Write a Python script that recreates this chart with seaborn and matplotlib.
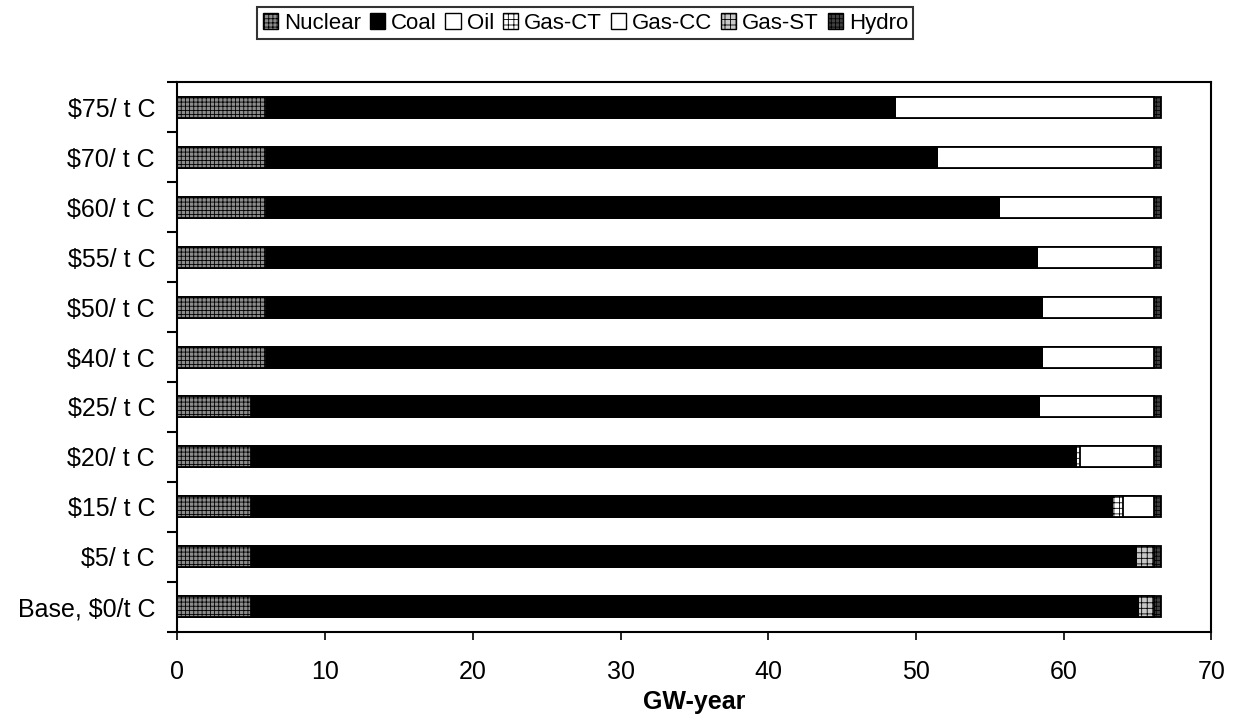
import matplotlib.pyplot as plt
import pandas as pd
import seaborn as sns
from matplotlib.patches import Patch

# scenarios, top to bottom
scenarios = ["$75/ t C", "$70/ t C", "$60/ t C", "$55/ t C", "$50/ t C", "$40/ t C",
             "$25/ t C", "$20/ t C", "$15/ t C", "$5/ t C", "Base, $0/t C"]

# GW-year by source
nuclear = [6.0, 6.0, 6.0, 6.0, 6.0, 6.0, 5.0, 5.0, 5.0, 5.0, 5.0]
coal = [42.6, 45.4, 49.6, 52.2, 52.5, 52.5, 53.3, 55.8, 58.3, 59.9, 60.0]
oil = [0, 0, 0, 0, 0, 0, 0, 0, 0, 0, 0]
gas_ct = [0, 0, 0, 0, 0, 0, 0, 0.3, 0.7, 0, 0]
gas_cc = [17.5, 14.7, 10.5, 7.9, 7.6, 7.6, 7.8, 5.0, 2.1, 0, 0]
gas_st = [0, 0, 0, 0, 0, 0, 0, 0, 0, 1.2, 1.1]
hydro = [0.5, 0.5, 0.5, 0.5, 0.5, 0.5, 0.5, 0.5, 0.5, 0.5, 0.5]

sources = ["Nuclear", "Coal", "Oil", "Gas-CT", "Gas-CC", "Gas-ST", "Hydro"]
styles = {
    "Nuclear": dict(color="#8c8c8c", hatch="++++"),
    "Coal": dict(color="#000000", hatch=None),
    "Oil": dict(color="#ffffff", hatch=None),
    "Gas-CT": dict(color="#ffffff", hatch="+++"),
    "Gas-CC": dict(color="#ffffff", hatch=None),
    "Gas-ST": dict(color="#c8c8c8", hatch="+++"),
    "Hydro": dict(color="#404040", hatch="++++"),
}

df = pd.DataFrame({"scenario": scenarios, "Nuclear": nuclear, "Coal": coal, "Oil": oil,
                   "Gas-CT": gas_ct, "Gas-CC": gas_cc, "Gas-ST": gas_st, "Hydro": hydro})
cum = df[sources].cumsum(axis=1)

sns.set_style("ticks")
plt.rcParams["font.family"] = ["Liberation Sans", "DejaVu Sans"]
plt.rcParams["hatch.linewidth"] = 0.6
for key in ["text.color", "axes.labelcolor", "xtick.color", "ytick.color"]:
    plt.rcParams[key] = "black"

fig, ax = plt.subplots(figsize=(12.4, 7.22), dpi=100)
fig.subplots_adjust(left=0.143, right=0.977, top=0.886, bottom=0.125)

# stack by overlaying cumulative totals, largest first
for src in reversed(sources):
    st = styles[src]
    sns.barplot(x=cum[src], y=df["scenario"], orient="h", ax=ax, color=st["color"],
                hatch=st["hatch"], edgecolor="black", linewidth=1.3, width=0.42,
                saturation=1)

ax.set_xlim(0, 70)
ax.set_ylim(10.5, -0.5)
ax.set_xticks(range(0, 71, 10))
ax.set_xlabel("GW-year", fontsize=18, fontweight="bold", labelpad=5)
ax.set_ylabel("")
ax.set_yticks(range(len(scenarios)))
ax.set_yticklabels(scenarios)
ax.set_yticks([i - 0.5 for i in range(len(scenarios) + 1)], minor=True)
ax.tick_params(axis="y", which="major", length=0, pad=16, labelsize=18)
ax.tick_params(axis="y", which="minor", length=7, width=1.5, direction="out")
ax.tick_params(axis="x", length=6, width=1.2, pad=14, labelsize=18)

for s in ax.spines.values():
    s.set_visible(True)
    s.set_linewidth(1.5)
    s.set_color("black")

handles = [Patch(facecolor=styles[s]["color"], hatch=styles[s]["hatch"], edgecolor="black")
           for s in sources]
leg = fig.legend(handles, sources, loc="upper center", bbox_to_anchor=(0.472, 0.99), ncol=7,
                 fontsize=16, frameon=True, fancybox=False, edgecolor="black",
                 handlelength=0.7, handleheight=0.7, handletextpad=0.25, columnspacing=0.4,
                 borderpad=0.25, borderaxespad=0)
leg.get_frame().set_linewidth(1.5)

plt.savefig("out.png", dpi=100)
